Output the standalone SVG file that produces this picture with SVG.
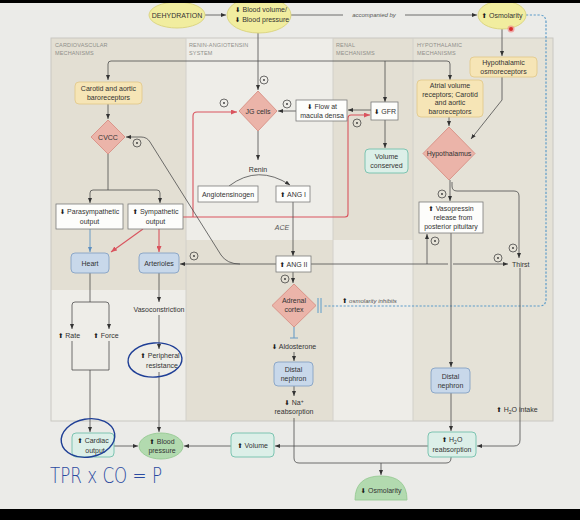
<svg xmlns="http://www.w3.org/2000/svg" width="580" height="520" viewBox="0 0 580 520">
<defs>
<marker id="ar" markerUnits="userSpaceOnUse" markerWidth="5" markerHeight="4" refX="5" refY="2" orient="auto"><path d="M0,0 L5,2 L0,4 z" fill="#333"/></marker>
<marker id="arr" markerUnits="userSpaceOnUse" markerWidth="6" markerHeight="5" refX="6" refY="2.5" orient="auto"><path d="M0,0 L6,2.5 L0,5 z" fill="#d9545e"/></marker>
<marker id="arb" markerUnits="userSpaceOnUse" markerWidth="5" markerHeight="4" refX="5" refY="2" orient="auto"><path d="M0,0 L5,2 L0,4 z" fill="#5d8fbf"/></marker>
<style>
.ln{stroke:#4d4d4d;stroke-width:0.8;fill:none}
.red{stroke:#d9545e;stroke-width:1.1;fill:none}
.blu{stroke:#6a9cc6;stroke-width:1;fill:none}
.dash{stroke:#5d9cc9;stroke-width:1.2;fill:none;stroke-dasharray:2.2 1.6}
.t{font-family:"Liberation Sans",Arial,sans-serif;font-size:7px;fill:#333;text-anchor:middle}
.it{font-style:italic;font-size:6px;fill:#555}
.hdr{font-family:"Liberation Sans",Arial,sans-serif;font-size:5.5px;fill:#8f8f8a;letter-spacing:0.15px}
.ar{font-family:"DejaVu Sans",sans-serif;font-size:6.5px;fill:#1a1a1a}
.box{fill:#fdfdfb;stroke:#7a7a7a;stroke-width:0.8}
.yel{fill:#f6e5b6;stroke:#e2c98d;stroke-width:0.9}
.dia{fill:#ebb4a9;stroke:#d88e83;stroke-width:0.9}
.bb{fill:#c8d8ea;stroke:#86a3c4;stroke-width:0.9}
.teal{fill:#dcefe8;stroke:#7dc4b1;stroke-width:1}
.grn{fill:#b2daaf;stroke:#96c993;stroke-width:0.9}
.yell{fill:#f1ed9f;stroke:#d9d37d;stroke-width:0.9}
.pl{fill:none;stroke:#333;stroke-width:0.7}
.ink{fill:none;stroke:#1f3f96;stroke-width:1.4}
</style>
</defs>
<rect x="0" y="0" width="580" height="520" fill="#ebebe8"/>
<g id="panel">
<rect x="51" y="38" width="502" height="383" fill="#eeede8"/>
<rect x="51" y="38" width="135" height="252" fill="#e3dfd3"/>
<rect x="186" y="240" width="147" height="181" fill="#e3dfd3"/>
<rect x="333" y="38" width="80" height="202" fill="#e3dfd3"/>
<rect x="413" y="38" width="140" height="383" fill="#e5e2d7"/>
<rect x="51" y="38" width="502" height="383" fill="none" stroke="#c9c8c2" stroke-width="1"/>
<path d="M186,38 V421 M333,38 V421 M413,38 V421" stroke="#d2d0ca" stroke-width="1" fill="none"/>
<text class="hdr" x="55" y="47">CARDIOVASCULAR</text><text class="hdr" x="55" y="55">MECHANISMS</text>
<text class="hdr" x="189" y="47">RENIN-ANGIOTENSIN</text><text class="hdr" x="189" y="55">SYSTEM</text>
<text class="hdr" x="336" y="47">RENAL</text><text class="hdr" x="336" y="55">MECHANISMS</text>
<text class="hdr" x="417" y="47">HYPOTHALAMIC</text><text class="hdr" x="417" y="55">MECHANISMS</text>
</g>
<g id="connectors">
<path class="ln" d="M205,15 L226,15" marker-end="url(#ar)"/>
<path class="ln" d="M291,15 L343,15 M405,15 L477,15" marker-end="url(#ar)"/>
<text class="t it" x="374" y="17">accompanied by</text>
<path class="dash" d="M526,15 L539,15 Q546,15 546,22 L546,299 Q546,306 539,306 L324,306"/>
<path d="M318,298 V313 M321,298 V313" stroke="#5d9cc9" stroke-width="1" fill="none"/>
<text class="t it" x="342" y="303" style="text-anchor:start"><tspan class="ar">⬆</tspan> osmolarity inhibits</text>
<path class="ln" d="M258,33 L258,90" marker-end="url(#ar)"/>
<path class="ln" d="M258,61 L111,61 Q108,61 108,64 L108,80" marker-end="url(#ar)"/>
<path class="ln" d="M258,61 L447,61 Q450,61 450,64 L450,80" marker-end="url(#ar)"/>
<path class="ln" d="M385,61 L385,102" marker-end="url(#ar)"/>
<path class="ln" d="M108,104 L108,119" marker-end="url(#ar)"/>
<path class="ln" d="M108,154 L108,190"/>
<path class="ln" d="M108,190 L93,190 Q90,190 90,193 L90,203" marker-end="url(#ar)"/>
<path class="ln" d="M108,190 L157,190 Q160,190 160,193 L160,203" marker-end="url(#ar)"/>
<path class="blu" d="M90,229 L90,252" marker-end="url(#arb)"/>
<path class="red" d="M143,229 L111,252" marker-end="url(#arr)"/>
<path class="red" d="M159,229 L159,252" marker-end="url(#arr)"/>
<path class="red" d="M183,217 L345,217 Q348,217 348,214 L348,118 Q348,115 351,115 L370,115" marker-end="url(#arr)"/>
<path class="red" d="M193,217 L193,116 Q193,112 197,112 L237,112" marker-end="url(#arr)"/>
<path class="ln" d="M276,264 L180,264" marker-end="url(#ar)"/>
<path class="ln" d="M240,264 Q227,264 221,255 L150,142 Q147,137 141,137 L126,137" marker-end="url(#ar)"/>
<path class="ln" d="M311,264 L448,264 M453,264 L508,264" marker-end="url(#ar)"/>
<path class="ln" d="M427,264 L427,234" marker-end="url(#ar)"/>
<path class="ln" d="M296,111 L278,111" marker-end="url(#ar)"/>
<path class="ln" d="M371,110 L348,110" marker-end="url(#ar)"/>
<path class="ln" d="M385,120 L385,148" marker-end="url(#ar)"/>
<path class="ln" d="M258,131 L258,160" marker-end="url(#ar)"/>
<path class="ln" d="M229,186 Q258,164 290,185" marker-end="url(#ar)"/>
<path class="ln" d="M293,202 L293,256" marker-end="url(#ar)"/>
<text class="t it" x="282" y="230" style="font-size:7px">ACE</text>
<path class="ln" d="M293,272 L293,283" marker-end="url(#ar)"/>
<path d="M294,327 V338 M290,338 H298" stroke="#6a9cc6" stroke-width="1.1" fill="none"/>
<path class="ln" d="M294,352 L294,361" marker-end="url(#ar)"/>
<path class="ln" d="M294,386 L294,396" marker-end="url(#ar)"/>
<path class="ln" d="M294,418 L294,458 Q294,463 299,463 L446,463 Q451,463 451,458 L451,457"/>
<path class="ln" d="M381,463 L381,475" marker-end="url(#ar)"/>
<path class="ln" d="M90,273 L90,302"/>
<path class="ln" d="M90,302 L75,302 Q72,302 72,305 L72,329" marker-end="url(#ar)"/>
<path class="ln" d="M90,302 L106,302 Q109,302 109,305 L109,329" marker-end="url(#ar)"/>
<path class="ln" d="M72,341 L72,370 L109,370 L109,341"/>
<path class="ln" d="M90,370 L90,432" marker-end="url(#ar)"/>
<path class="ln" d="M159,273 L159,302" marker-end="url(#ar)"/>
<path class="ln" d="M159,315 L159,349" marker-end="url(#ar)"/>
<path class="ln" d="M159,372 L159,432" marker-end="url(#ar)"/>
<path class="ln" d="M114,446 L138,446" marker-end="url(#ar)"/>
<path class="ln" d="M231,446 L184,446" marker-end="url(#ar)"/>
<path class="ln" d="M428,446 L275,446" marker-end="url(#ar)"/>
<path class="ln" d="M502,29 L502,56" marker-end="url(#ar)"/>
<path class="ln" d="M502,77 L502,100 L471,139" marker-end="url(#ar)"/>
<path class="ln" d="M449,117 L449,126" marker-end="url(#ar)"/>
<path class="ln" d="M450,180 L450,201" marker-end="url(#ar)"/>
<path class="ln" d="M452,182 L452,186 Q452,191 457,191 L514,191 Q519,191 519,196 L519,258" marker-end="url(#ar)"/>
<path class="ln" d="M451,233 L451,367" marker-end="url(#ar)"/>
<path class="ln" d="M451,393 L451,431" marker-end="url(#ar)"/>
<path class="ln" d="M520,268 L520,440 Q520,446 514,446 L477,446" marker-end="url(#ar)"/>
<g id="plus">
<circle class="pl" cx="264" cy="80" r="4"/><circle class="pl" cx="224" cy="103" r="4"/><circle class="pl" cx="287" cy="104" r="4"/><circle class="pl" cx="357" cy="123" r="4"/><circle class="pl" cx="137" cy="143" r="4"/><circle class="pl" cx="194" cy="256" r="4"/><circle class="pl" cx="285" cy="279" r="4"/><circle class="pl" cx="442" cy="194" r="4"/><circle class="pl" cx="435" cy="241" r="4"/><circle class="pl" cx="498" cy="258" r="4"/><circle class="pl" cx="513" cy="248" r="4"/>
<g fill="#333"><circle cx="264" cy="80" r="0.9"/><circle cx="224" cy="103" r="0.9"/><circle cx="287" cy="104" r="0.9"/><circle cx="357" cy="123" r="0.9"/><circle cx="137" cy="143" r="0.9"/><circle cx="194" cy="256" r="0.9"/><circle cx="285" cy="279" r="0.9"/><circle cx="442" cy="194" r="0.9"/><circle cx="435" cy="241" r="0.9"/><circle cx="498" cy="258" r="0.9"/><circle cx="513" cy="248" r="0.9"/></g>
</g>
</g>
<g id="dehydration"><ellipse class="yell" cx="177" cy="15" rx="28" ry="13"/><text class="t" x="177" y="17.5">DEHYDRATION</text></g>
<g id="blood-volume"><ellipse class="yell" cx="259" cy="15" rx="32" ry="18"/><text class="t" x="261" y="12"><tspan class="ar">⬇</tspan> Blood volume/</text><text class="t" x="262" y="22"><tspan class="ar">⬇</tspan> Blood pressure</text></g>
<g id="osmolarity-top"><ellipse class="yell" cx="502" cy="15" rx="24" ry="14"/><text class="t" x="502" y="17.5"><tspan class="ar">⬆</tspan> Osmolarity</text></g>
<g id="carotid"><rect class="yel" x="75" y="82" width="67" height="22" rx="4"/><text class="t" x="108.5" y="91">Carotid and aortic</text><text class="t" x="108.5" y="100">baroreceptors</text></g>
<g id="cvcc"><path class="dia" d="M108,120 L125,137 L108,154 L91,137 Z" stroke-linejoin="round"/><text class="t" x="108" y="139.5">CVCC</text></g>
<g id="parasympathetic"><rect class="box" x="56" y="204" width="67" height="25"/><text class="t" x="89.5" y="214"><tspan class="ar">⬇</tspan> Parasympathetic</text><text class="t" x="89.5" y="224">output</text></g>
<g id="sympathetic"><rect class="box" x="128" y="204" width="55" height="25"/><text class="t" x="155.5" y="214"><tspan class="ar">⬆</tspan> Sympathetic</text><text class="t" x="155.5" y="224">output</text></g>
<g id="heart"><rect class="bb" x="71" y="253" width="38" height="20" rx="4"/><text class="t" x="90" y="265.5">Heart</text></g>
<g id="arterioles"><rect class="bb" x="139" y="253" width="40" height="20" rx="4"/><text class="t" x="159" y="265.5">Arterioles</text></g>
<g id="rate"><text class="t" x="69" y="337.5"><tspan class="ar">⬆</tspan> Rate</text></g>
<g id="force"><text class="t" x="106" y="337.5"><tspan class="ar">⬆</tspan> Force</text></g>
<g id="vasoconstriction"><text class="t" x="159" y="312">Vasoconstriction</text></g>
<g id="peripheral"><text class="t" x="160" y="358"><tspan class="ar">⬆</tspan> Peripheral</text><text class="t" x="162" y="368">resistance</text></g>
<g id="jg"><path class="dia" d="M258,91 L277,111 L258,131 L239,111 Z" stroke-linejoin="round"/><text class="t" x="258" y="113.5">JG cells</text></g>
<g id="flow"><rect class="box" x="296" y="100" width="51" height="21"/><text class="t" x="322" y="109"><tspan class="ar">⬇</tspan> Flow at</text><text class="t" x="322" y="118">macula densa</text></g>
<g id="gfr"><rect class="box" x="371" y="102" width="27" height="18"/><text class="t" x="385" y="113.5"><tspan class="ar">⬇</tspan> GFR</text></g>
<g id="volume-conserved"><rect class="teal" x="365" y="149" width="43" height="24" rx="4"/><text class="t" x="386.5" y="159">Volume</text><text class="t" x="386.5" y="168">conserved</text></g>
<g id="renin"><text class="t" x="258" y="172">Renin</text></g>
<g id="angiotensinogen"><rect class="box" x="198" y="186" width="60" height="16"/><text class="t" x="228" y="196.5">Angiotensinogen</text></g>
<g id="ang1"><rect class="box" x="276" y="186" width="34" height="16"/><text class="t" x="293" y="196.5"><tspan class="ar">⬆</tspan> ANG I</text></g>
<g id="ang2"><rect class="box" x="276" y="256" width="35" height="16"/><text class="t" x="293.5" y="266.5"><tspan class="ar">⬆</tspan> ANG II</text></g>
<g id="adrenal"><path class="dia" d="M294,284 L316,305.5 L294,327 L272,305.5 Z" stroke-linejoin="round"/><text class="t" x="294" y="303">Adrenal</text><text class="t" x="294" y="312">cortex</text></g>
<g id="aldosterone"><text class="t" x="294" y="349"><tspan class="ar">⬇</tspan> Aldosterone</text></g>
<g id="distal-left"><rect class="bb" x="274" y="362" width="39" height="24" rx="4"/><text class="t" x="293.5" y="372">Distal</text><text class="t" x="293.5" y="381">nephron</text></g>
<g id="na"><text class="t" x="294" y="405"><tspan class="ar">⬇</tspan> Na<tspan dy="-2.5" style="font-size:5px">+</tspan></text><text class="t" x="294" y="414">reabsorption</text></g>
<g id="osmoreceptors"><rect class="yel" x="470" y="57" width="67" height="20" rx="4"/><text class="t" x="503.5" y="65">Hypothalamic</text><text class="t" x="503.5" y="74">osmoreceptors</text></g>
<g id="atrial"><rect class="yel" x="417" y="80" width="66" height="37" rx="4"/><text class="t" x="450" y="88">Atrial volume</text><text class="t" x="450" y="96.5">receptors; Carotid</text><text class="t" x="450" y="105">and aortic</text><text class="t" x="450" y="113.5">baroreceptors</text></g>
<g id="hypothalamus"><path class="dia" d="M449,127 L475,153.5 L449,180 L423,153.5 Z" stroke-linejoin="round"/><text class="t" x="449" y="156">Hypothalamus</text></g>
<g id="vasopressin"><rect class="box" x="419" y="202" width="64" height="31"/><text class="t" x="451" y="211"><tspan class="ar">⬆</tspan> Vasopressin</text><text class="t" x="453" y="220">release from</text><text class="t" x="451" y="229">posterior pituitary</text></g>
<g id="thirst"><text class="t" x="512" y="266.5" style="text-anchor:start">Thirst</text></g>
<g id="distal-right"><rect class="bb" x="431" y="368" width="39" height="25" rx="4"/><text class="t" x="450.5" y="378.5">Distal</text><text class="t" x="450.5" y="387.5">nephron</text></g>
<g id="h2o-intake"><text class="t" x="517" y="412"><tspan class="ar">⬆</tspan> H<tspan dy="1.5" style="font-size:5px">2</tspan><tspan dy="-1.5">O intake</tspan></text></g>
<g id="h2o-reabsorption"><rect class="teal" x="428" y="432" width="48" height="25" rx="4"/><text class="t" x="452" y="442"><tspan class="ar">⬆</tspan> H<tspan dy="1.5" style="font-size:5px">2</tspan><tspan dy="-1.5">O</tspan></text><text class="t" x="452" y="451.5">reabsorption</text></g>
<g id="cardiac-output"><rect class="teal" x="72" y="433" width="42" height="24" rx="4"/><text class="t" x="93" y="443"><tspan class="ar">⬆</tspan> Cardiac</text><text class="t" x="95" y="452.5">output</text></g>
<g id="blood-pressure"><ellipse class="grn" cx="161" cy="446" rx="22" ry="13"/><text class="t" x="162" y="443.5"><tspan class="ar">⬆</tspan> Blood</text><text class="t" x="162" y="453">pressure</text></g>
<g id="volume"><rect class="teal" x="231" y="433" width="43" height="24" rx="4"/><text class="t" x="252.5" y="447.5"><tspan class="ar">⬆</tspan> Volume</text></g>
<g id="osmolarity-bottom"><path class="grn" d="M355,500 Q355,476 381,476 Q407,476 407,500 Z"/><text class="t" x="381" y="493"><tspan class="ar">⬇</tspan> Osmolarity</text></g>
<g id="annotations">
<ellipse class="ink" cx="155" cy="360" rx="27" ry="17" transform="rotate(-4 155 360)"/>
<ellipse class="ink" cx="88" cy="438" rx="27" ry="19" transform="rotate(-10 88 438)"/>
<text x="50" y="483" style="font-family:'DejaVu Sans',sans-serif;font-size:21px;fill:#2a4aa0;font-weight:300" textLength="112" lengthAdjust="spacingAndGlyphs">TPR x CO = P</text>
<circle cx="511" cy="29" r="3.5" fill="#f08a8a" opacity="0.7"/><circle cx="511" cy="29" r="2" fill="#d92b2b"/>
</g>
<rect x="0" y="0" width="580" height="3" fill="#000"/>
<rect x="0" y="509" width="580" height="11" fill="#000"/>
</svg>
